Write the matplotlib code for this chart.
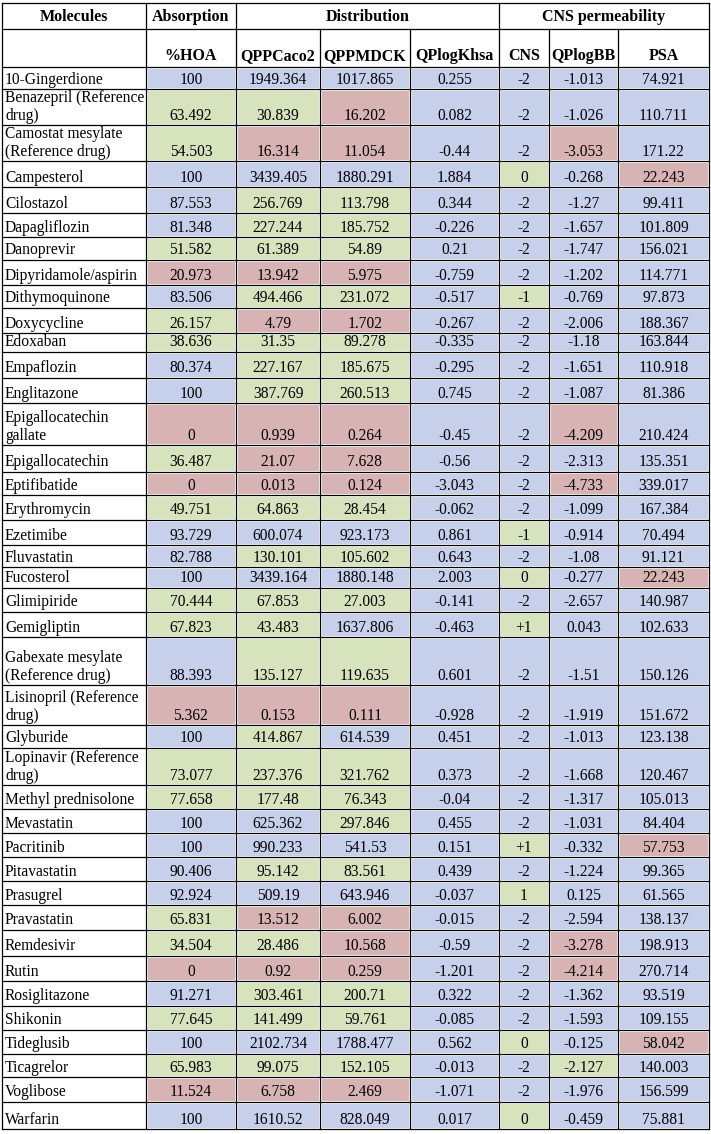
import matplotlib.pyplot as plt
from matplotlib.patches import Rectangle

plt.rcParams['font.family'] = ['Liberation Serif', 'DejaVu Serif']

# header texts
group_labels = ['Molecules', 'Absorption', 'Distribution', 'CNS permeability']
col_labels = ['', '%HOA', 'QPPCaco2', 'QPPMDCK', 'QPlogKhsa', 'CNS', 'QPlogBB', 'PSA']

molecules = [
    '10-Gingerdione', 'Benazepril (Reference\ndrug)', 'Camostat mesylate\n(Reference drug)',
    'Campesterol', 'Cilostazol', 'Dapagliflozin', 'Danoprevir', 'Dipyridamole/aspirin',
    'Dithymoquinone', 'Doxycycline', 'Edoxaban', 'Empaflozin', 'Englitazone',
    'Epigallocatechin\ngallate', 'Epigallocatechin', 'Eptifibatide', 'Erythromycin',
    'Ezetimibe', 'Fluvastatin', 'Fucosterol', 'Glimipiride', 'Gemigliptin',
    'Gabexate mesylate\n(Reference drug)', 'Lisinopril (Reference\ndrug)', 'Glyburide',
    'Lopinavir (Reference\ndrug)', 'Methyl prednisolone', 'Mevastatin', 'Pacritinib',
    'Pitavastatin', 'Prasugrel', 'Pravastatin', 'Remdesivir', 'Rutin', 'Rosiglitazone',
    'Shikonin', 'Tideglusib', 'Ticagrelor', 'Voglibose', 'Warfarin',
]

hoa = ['100', '63.492', '54.503', '100', '87.553', '81.348', '51.582', '20.973', '83.506',
       '26.157', '38.636', '80.374', '100', '0', '36.487', '0', '49.751', '93.729', '82.788',
       '100', '70.444', '67.823', '88.393', '5.362', '100', '73.077', '77.658', '100', '100',
       '90.406', '92.924', '65.831', '34.504', '0', '91.271', '77.645', '100', '65.983',
       '11.524', '100']
caco2 = ['1949.364', '30.839', '16.314', '3439.405', '256.769', '227.244', '61.389', '13.942',
         '494.466', '4.79', '31.35', '227.167', '387.769', '0.939', '21.07', '0.013', '64.863',
         '600.074', '130.101', '3439.164', '67.853', '43.483', '135.127', '0.153', '414.867',
         '237.376', '177.48', '625.362', '990.233', '95.142', '509.19', '13.512', '28.486',
         '0.92', '303.461', '141.499', '2102.734', '99.075', '6.758', '1610.52']
mdck = ['1017.865', '16.202', '11.054', '1880.291', '113.798', '185.752', '54.89', '5.975',
        '231.072', '1.702', '89.278', '185.675', '260.513', '0.264', '7.628', '0.124', '28.454',
        '923.173', '105.602', '1880.148', '27.003', '1637.806', '119.635', '0.111', '614.539',
        '321.762', '76.343', '297.846', '541.53', '83.561', '643.946', '6.002', '10.568',
        '0.259', '200.71', '59.761', '1788.477', '152.105', '2.469', '828.049']
khsa = ['0.255', '0.082', '-0.44', '1.884', '0.344', '-0.226', '0.21', '-0.759', '-0.517',
        '-0.267', '-0.335', '-0.295', '0.745', '-0.45', '-0.56', '-3.043', '-0.062', '0.861',
        '0.643', '2.003', '-0.141', '-0.463', '0.601', '-0.928', '0.451', '0.373', '-0.04',
        '0.455', '0.151', '0.439', '-0.037', '-0.015', '-0.59', '-1.201', '0.322', '-0.085',
        '0.562', '-0.013', '-1.071', '0.017']
cns = ['-2', '-2', '-2', '0', '-2', '-2', '-2', '-2', '-1', '-2', '-2', '-2', '-2', '-2', '-2',
       '-2', '-2', '-1', '-2', '0', '-2', '+1', '-2', '-2', '-2', '-2', '-2', '-2', '+1', '-2',
       '1', '-2', '-2', '-2', '-2', '-2', '0', '-2', '-2', '0']
logbb = ['-1.013', '-1.026', '-3.053', '-0.268', '-1.27', '-1.657', '-1.747', '-1.202',
         '-0.769', '-2.006', '-1.18', '-1.651', '-1.087', '-4.209', '-2.313', '-4.733',
         '-1.099', '-0.914', '-1.08', '-0.277', '-2.657', '0.043', '-1.51', '-1.919', '-1.013',
         '-1.668', '-1.317', '-1.031', '-0.332', '-1.224', '0.125', '-2.594', '-3.278',
         '-4.214', '-1.362', '-1.593', '-0.125', '-2.127', '-1.976', '-0.459']
psa = ['74.921', '110.711', '171.22', '22.243', '99.411', '101.809', '156.021', '114.771',
       '97.873', '188.367', '163.844', '110.918', '81.386', '210.424', '135.351', '339.017',
       '167.384', '70.494', '91.121', '22.243', '140.987', '102.633', '150.126', '151.672',
       '123.138', '120.467', '105.013', '84.404', '57.753', '99.365', '61.565', '138.137',
       '198.913', '270.714', '93.519', '109.155', '58.042', '140.003', '156.599', '75.881']

# cell shading class per column: B = blue, G = green, R = red
hoa_cls = 'BGGBBBGRBGGBBRGRGBBBGGBRBGGBBBBGGRBGBGRB'
caco2_cls = 'BGRBGGGRGRGGGRRRGBGBGGGRGGGBBGBRGRGGBGRB'
mdck_cls = 'BRRBGGGRGRGGGRRRGBGBGBGRBGGGBGBRRRGGBGRB'
khsa_cls = 'B' * 40
cns_cls = 'BBBGBBBBGBBBBBBBBGBGBGBBBBBBGBGBBBBBGBBG'
logbb_cls = 'BBRBBBBBBBBBBRBRBBBBBBBBBBBBBBBBRRBBBGBB'
psa_cls = 'BBBRBBBBBBBBBBBBBBBRBBBBBBBBRBBBBBBBRBBB'

shade = {'B': '#c6d0eb', 'G': '#d6e3bd', 'R': '#d8b3b3'}

columns = [hoa, caco2, mdck, khsa, cns, logbb, psa]
classes = [hoa_cls, caco2_cls, mdck_cls, khsa_cls, cns_cls, logbb_cls, psa_cls]

# layout (pixels)
col_edges = [2, 146, 236, 320, 410, 499, 549, 618, 709]
head_h = [26, 38]
row_h = [22, 36, 36, 26, 26, 24, 23, 25, 23, 25, 19, 26, 25, 42, 27, 23, 25, 25, 22, 21,
         24, 25, 48, 40, 23, 37, 24, 24, 24, 24, 24, 25, 26, 25, 25, 24, 24, 23, 25, 27]
top = 3
fs = 11.2
fs_head = 11.5

fig = plt.figure(figsize=(7.11, 11.34), dpi=100)
ax = fig.add_axes([0, 0, 1, 1])
ax.set_xlim(0, 711)
ax.set_ylim(1134, 0)
ax.axis('off')

row_edges = [top]
for h in head_h + row_h:
    row_edges.append(row_edges[-1] + h)

lw = 0.9
# data rows
for i, name in enumerate(molecules):
    y0, y1 = row_edges[i + 2], row_edges[i + 3]
    ax.text(col_edges[0] + 3, y1 - 1.5, name, ha='left', va='bottom', fontsize=fs, linespacing=1.15)
    for j, (vals, cls) in enumerate(zip(columns, classes)):
        x0, x1 = col_edges[j + 1], col_edges[j + 2]
        ax.add_patch(Rectangle((x0 + 1.5, y0 + 1.5), x1 - x0 - 3, y1 - y0 - 3,
                               facecolor=shade[cls[i]], edgecolor='none'))
        ax.text((x0 + x1) / 2, y1 - 1.5, vals[i], ha='center', va='bottom', fontsize=fs)

# horizontal rules
for y in row_edges:
    ax.plot([col_edges[0], col_edges[-1]], [y, y], color='black', lw=lw)

# vertical rules (group header spans merge some cells)
y_top, y_h1, y_bot = row_edges[0], row_edges[1], row_edges[-1]
for k, x in enumerate(col_edges):
    if k in (0, 1, 2, 5, 8):
        ax.plot([x, x], [y_top, y_bot], color='black', lw=lw)
    else:
        ax.plot([x, x], [y_h1, y_bot], color='black', lw=lw)

# group header
group_spans = [(0, 1), (1, 2), (2, 5), (5, 8)]
for lab, (a, b) in zip(group_labels, group_spans):
    ax.text((col_edges[a] + col_edges[b]) / 2, (y_top + y_h1) / 2 + 1, lab,
            ha='center', va='center', fontsize=fs_head, fontweight='bold')

# column header
for j, lab in enumerate(col_labels):
    ax.text((col_edges[j] + col_edges[j + 1]) / 2, row_edges[2] - 3, lab,
            ha='center', va='bottom', fontsize=fs_head, fontweight='bold')

fig.savefig('out.png', dpi=100)
